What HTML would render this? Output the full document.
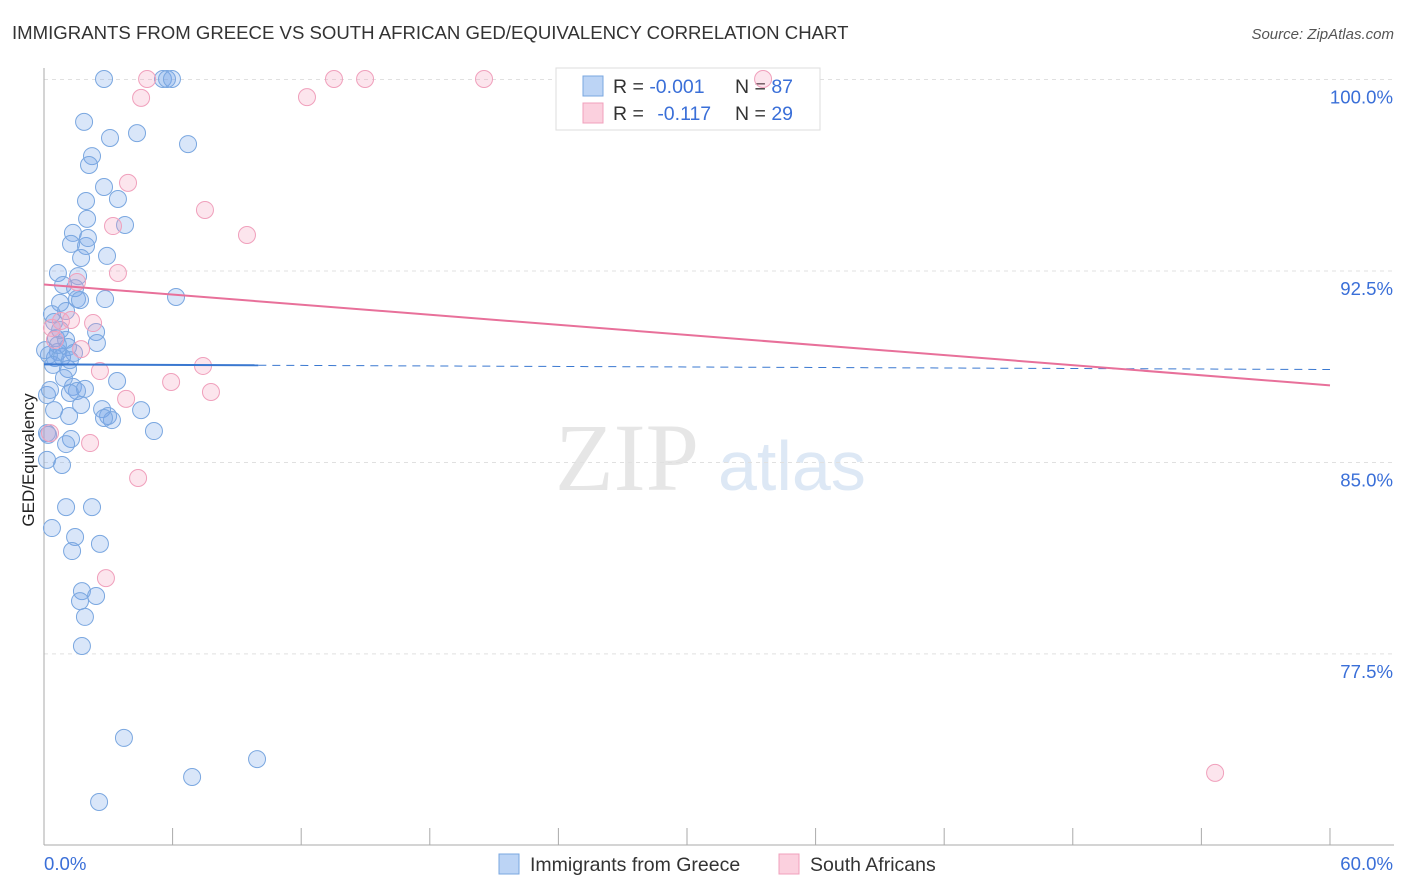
<!DOCTYPE html>
<html><head><meta charset="utf-8">
<style>
body{margin:0;background:#fff;font-family:"Liberation Sans",sans-serif;}
svg{display:block}
</style></head>
<body>
<svg id="chart" width="1406" height="892" xmlns="http://www.w3.org/2000/svg">
<text x="12" y="39" font-size="18.6" fill="#333">IMMIGRANTS FROM GREECE VS SOUTH AFRICAN GED/EQUIVALENCY CORRELATION CHART</text>
<text x="1394" y="39" font-size="15" fill="#555" font-style="italic" text-anchor="end">Source: ZipAtlas.com</text>
<text x="34" y="460" font-size="17" fill="#222" text-anchor="middle" transform="rotate(-90 34 460)">GED/Equivalency</text>
<text x="555" y="490" font-size="96" fill="#e6e6e6" font-family="Liberation Serif,serif">ZIP</text>
<text x="718" y="490" font-size="70" fill="#dde8f5">atlas</text>
<g id="grid"></g><g id="axes"></g>
<g>
<rect x="556" y="68" width="264" height="62" fill="#fff" stroke="#ddd"/>
<rect x="583" y="76" width="20" height="20" fill="#bcd4f5" stroke="#7aa7e0"/>
<rect x="583" y="103" width="20" height="20" fill="#fbd0de" stroke="#f0a0bc"/>
<text x="613" y="93" font-size="19.5" fill="#333">R = <tspan fill="#3a6fd8">-0.001</tspan></text>
<text x="735" y="93" font-size="19.5" fill="#333">N = <tspan fill="#3a6fd8">87</tspan></text>
<text x="613" y="120" font-size="19.5" fill="#333">R =  <tspan fill="#3a6fd8" dx="8">-0.117</tspan></text>
<text x="735" y="120" font-size="19.5" fill="#333">N = <tspan fill="#3a6fd8">29</tspan></text>
</g>
<g id="pts"></g><g id="trend"></g>
<g>
<rect x="499" y="854" width="20" height="20" fill="#bcd4f5" stroke="#7aa7e0"/>
<text x="530" y="871" font-size="19.5" fill="#333">Immigrants from Greece</text>
<rect x="779" y="854" width="20" height="20" fill="#fbd0de" stroke="#f0a0bc"/>
<text x="810" y="871" font-size="19.5" fill="#333">South Africans</text>
</g>
</svg>
<script>
const yTicks=[100,92.5,85,77.5];
const yTickLabels=["100.0%","92.5%","85.0%","77.5%"];
const xTickLabels=["0.0%","60.0%"];
const bluePx=[[104,79],[163,79],[167,79],[172,79],[84,122],[110,138],[137,133],[188,144],[92,156],[89,165],[104,187],[86,201],[118,199],[87,219],[125,225],[73,233],[71,244],[86,246],[107,256],[81,258],[58,273],[78,276],[63,285],[75,288],[105,299],[176,297],[60,303],[77,299],[66,311],[52,314],[54,322],[96,332],[56,338],[66,340],[68,347],[97,343],[74,353],[58,352],[49,355],[55,358],[62,357],[53,365],[68,369],[117,381],[73,387],[85,389],[77,391],[70,393],[47,395],[81,405],[102,409],[54,410],[141,410],[69,416],[108,416],[112,420],[104,418],[154,431],[71,439],[66,444],[47,433],[47,460],[62,465],[66,507],[92,507],[52,528],[75,537],[72,551],[100,544],[82,591],[80,601],[96,596],[85,617],[82,646],[124,738],[192,777],[257,759],[99,802],[48,435],[50,390],[58,345],[80,300],[64,378],[88,238],[60,330],[70,360],[45,350]];
const pinkPx=[[147,79],[334,79],[365,79],[484,79],[763,79],[141,98],[307,97],[128,183],[205,210],[113,226],[247,235],[118,273],[77,282],[61,321],[93,323],[71,320],[52,328],[81,349],[203,366],[100,371],[171,382],[211,392],[126,399],[90,443],[138,478],[106,578],[1215,773],[50,433],[55,340]];
const blueX=bluePx.map(p=>+((p[0]-44)/21.433).toFixed(2));
const blueY=bluePx.map(p=>+(100-(p[1]-79.5)/25.53).toFixed(2));
const pinkX=pinkPx.map(p=>+((p[0]-44)/21.433).toFixed(2));
const pinkY=pinkPx.map(p=>+(100-(p[1]-79.5)/25.53).toFixed(2));
const blueTrend=[88.84,88.64];
const pinkTrend=[91.97,88.02];
const X=v=>44+v*21.433, Y=v=>79.5+(100-v)*25.53;
const NS="http://www.w3.org/2000/svg";
function mk(tag,attrs,parent){const e=document.createElementNS(NS,tag);for(const k in attrs)e.setAttribute(k,attrs[k]);parent.appendChild(e);return e;}
const grid=document.getElementById('grid'),axes=document.getElementById('axes'),pts=document.getElementById('pts'),trend=document.getElementById('trend');
yTicks.forEach((t,i)=>{
 const l=mk('line',{x1:44,x2:1394,y1:Y(t),y2:Y(t),stroke:'#e0e0e0','stroke-dasharray':'4,4'},grid);
 
 
 const tx=mk('text',{x:1393,y:Y(t)+24,'font-size':18.6,fill:'#3a6fd8','text-anchor':'end'},grid);
 tx.textContent=yTickLabels[i];
 
 
});
const ax=mk('line',{x1:44,x2:44,y1:68,y2:845,stroke:'#aaa'},axes);


const bx=mk('line',{x1:44,x2:1394,y1:845,y2:845,stroke:'#aaa'},axes);


for(let i=0;i<=10;i++){const t=mk('line',{x1:X(i*6),x2:X(i*6),y1:828,y2:845,stroke:'#aaa'},axes);
 
 }
[[0,'start'],[60,'end']].forEach((p,i)=>{const t=mk('text',{x:i?1393:44,y:870,'font-size':18.6,fill:'#3a6fd8','text-anchor':p[1]},axes);t.textContent=xTickLabels[i];
 
 });
blueX.forEach((x,i)=>{const c=mk('circle',{cx:X(x),cy:Y(blueY[i]),r:8.5,fill:'rgba(120,165,235,0.28)',stroke:'#7aa7e0','stroke-width':1},pts);
 
 });
pinkX.forEach((x,i)=>{const c=mk('circle',{cx:X(x),cy:Y(pinkY[i]),r:8.5,fill:'rgba(245,160,190,0.28)',stroke:'#f0a0bc','stroke-width':1},pts);
 
 });
const bxEnd=10;
const by=x=>blueTrend[0]+(blueTrend[1]-blueTrend[0])*x/60;
const b1=mk('line',{x1:X(0),y1:Y(by(0)),x2:X(bxEnd),y2:Y(by(bxEnd)),stroke:'#3a78d0','stroke-width':2},trend);


const b2=mk('line',{x1:X(bxEnd),y1:Y(by(bxEnd)),x2:X(60),y2:Y(by(60)),stroke:'#3a78d0','stroke-width':1,'stroke-dasharray':'8,6'},trend);


const p1=mk('line',{x1:X(0),y1:Y(pinkTrend[0]),x2:X(60),y2:Y(pinkTrend[1]),stroke:'#e8709a','stroke-width':2},trend);


</script>
</body></html>
